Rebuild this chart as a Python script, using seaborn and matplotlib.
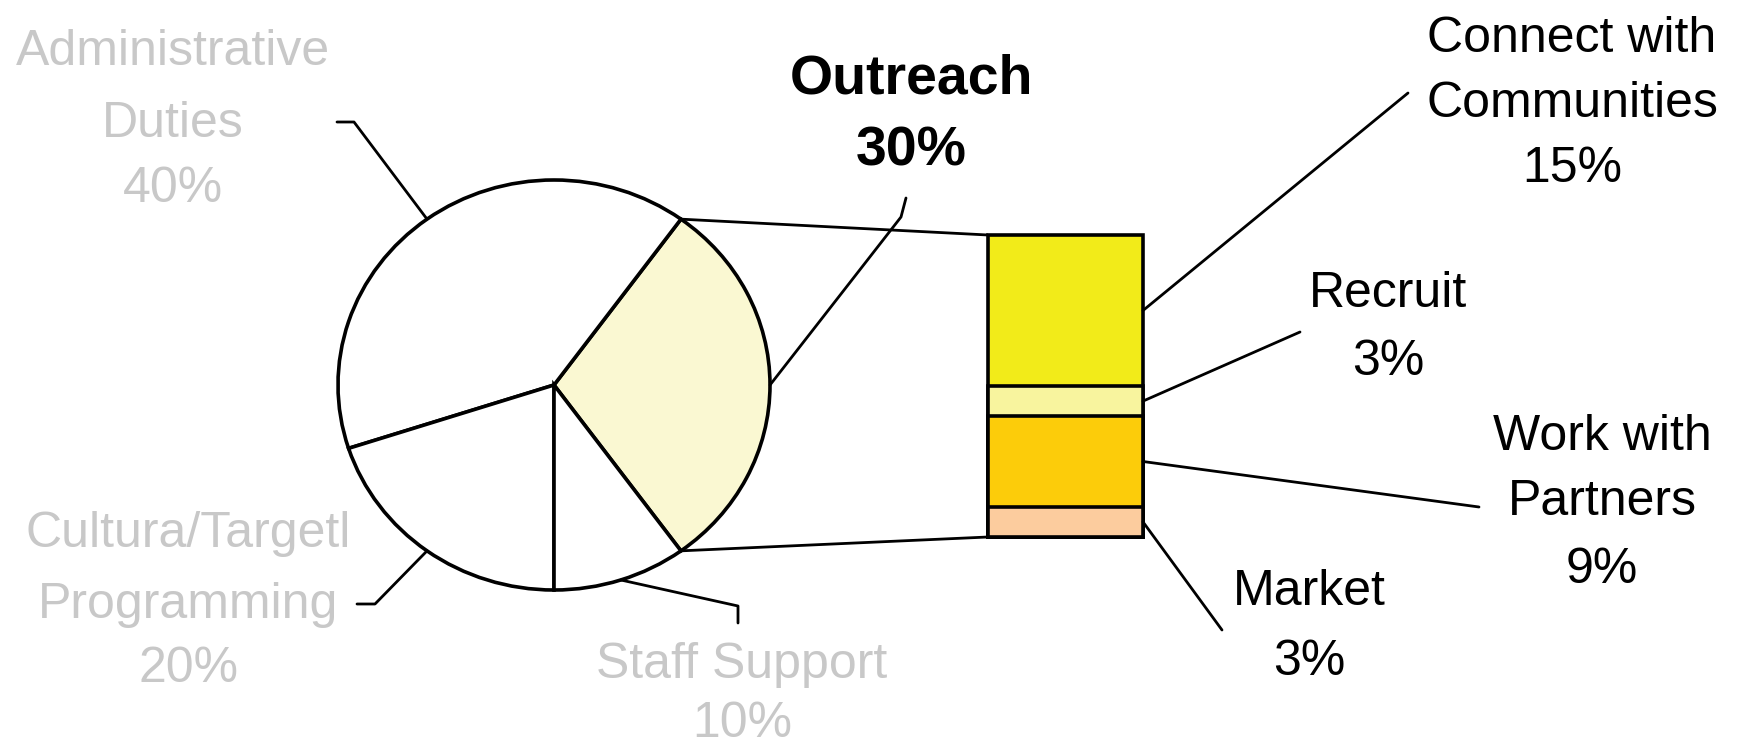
import numpy as np
import pandas as pd
import matplotlib
matplotlib.use("Agg")
import matplotlib.pyplot as plt
import seaborn as sns

# ---------------- data ----------------
pie_labels = ["Outreach", "Administrative\nDuties", "Cultura/Targetl\nProgramming", "Staff Support"]
pie_values = [30, 40, 20, 10]
pie_colors = ["#FAF8D2", "#FFFFFF", "#FFFFFF", "#FFFFFF"]

bar_labels = ["Connect with\nCommunities", "Recruit", "Work with\nPartners", "Market"]
bar_values = [15, 3, 9, 3]
bar_colors = ["#F2EB19", "#F8F49E", "#FCCC0A", "#FCCC9E"]

# ---------------- style ----------------
sns.set_theme(style="white")
plt.rcParams["font.family"] = ["Liberation Sans", "DejaVu Sans"]

W, H = 1744, 747
fig = plt.figure(figsize=(W / 100, H / 100), dpi=100)

def fig_box(left, top, right, bottom):
    return [left / W, 1 - bottom / H, (right - left) / W, (bottom - top) / H]

# pie axes (slightly elliptical, as in the reference)
ax_pie = fig.add_axes(fig_box(338, 180, 770, 590))
wedges, _ = ax_pie.pie(pie_values, colors=pie_colors, startangle=-54, counterclock=True,
                       wedgeprops=dict(edgecolor="black", linewidth=2.6))
ax_pie.set_aspect("auto")
ax_pie.set_xlim(-1, 1)
ax_pie.set_ylim(-1, 1)
ax_pie.axis("off")
for w in wedges:
    w.set_clip_on(False)

# stacked bar axes
ax_bar = fig.add_axes(fig_box(988, 235, 1143, 537))
tops = np.cumsum(bar_values[::-1])[::-1]
df = pd.DataFrame({"group": ["Outreach"] * len(bar_labels), "segment": bar_labels, "top": tops})
sns.barplot(data=df, x="group", y="top", hue="segment", hue_order=bar_labels,
            palette=bar_colors, dodge=False, width=1.0, saturation=1,
            edgecolor="black", linewidth=2.6, ax=ax_bar, legend=False)
ax_bar.set_xlim(-0.5, 0.5)
ax_bar.set_ylim(0, sum(bar_values))
ax_bar.axis("off")
for p in ax_bar.patches:
    p.set_clip_on(False)

# overlay axes in pixel coordinates for labels and leader lines
ax = fig.add_axes([0, 0, 1, 1])
ax.set_xlim(0, W)
ax.set_ylim(H, 0)
ax.axis("off")
ax.patch.set_alpha(0)

def to_ov(src, pt):
    return ax.transData.inverted().transform(src.transData.transform(pt))

total = sum(pie_values)
start = -54.0
angles = []
a = start
for v in pie_values:
    a2 = a + v / total * 360
    angles.append((a, a2))
    a = a2

def pie_pt(deg):
    r = np.deg2rad(deg)
    return to_ov(ax_pie, (np.cos(r), np.sin(r)))

LW = 2.0
# connectors from the Outreach wedge to the bar
t1, t2 = angles[0]
for deg, ybar in [(t2, sum(bar_values)), (t1, 0)]:
    p0 = pie_pt(deg)
    p1 = to_ov(ax_bar, (-0.5, ybar))
    ax.plot([p0[0], p1[0]], [p0[1], p1[1]], color="black", lw=LW, solid_capstyle="butt")

# pie leader lines (elbow, end) in pixels
pie_leaders = [
    [(901, 217), (906, 198)],
    [(354, 122), (337, 122)],
    [(375, 604), (357, 604)],
    [(738, 606), (738, 623)],
]
for (a1, a2), pts in zip(angles, pie_leaders):
    p0 = pie_pt((a1 + a2) / 2)
    xs = [p0[0]] + [q[0] for q in pts]
    ys = [p0[1]] + [q[1] for q in pts]
    ax.plot(xs, ys, color="black", lw=LW)

# bar leader lines
bar_leader_ends = [(1408, 93), (1300, 332), (1479, 507), (1222, 630)]
for top, v, end in zip(tops, bar_values, bar_leader_ends):
    p0 = to_ov(ax_bar, (0.5, top - v / 2))
    ax.plot([p0[0], end[0]], [p0[1], end[1]], color="black", lw=LW)

# labels: (center x, baselines)
FS = 36
GRAY = "#C8C8C8"
pie_text_pos = [
    (911, [93, 166]),
    (173, [65, 137, 202]),
    (188, [547, 618, 682]),
    (742, [678, 737]),
]
pie_text_style = [
    dict(color="black", fontweight="bold", fontsize=40),
    dict(color=GRAY, fontsize=FS),
    dict(color=GRAY, fontsize=FS),
    dict(color=GRAY, fontsize=FS),
]
for lab, v, (x, bases), st in zip(pie_labels, pie_values, pie_text_pos, pie_text_style):
    lines = lab.split("\n") + [f"{v}%"]
    for line, yb in zip(lines, bases):
        ax.text(x, yb, line, ha="center", va="baseline", **st)

bar_text_pos = [
    (1572, [52, 117, 182]),
    (1388, [307, 375]),
    (1602, [450, 515, 583]),
    (1309, [605, 675]),
]
for lab, v, (x, bases) in zip(bar_labels, bar_values, bar_text_pos):
    lines = lab.split("\n") + [f"{v}%"]
    for line, yb in zip(lines, bases):
        ax.text(x, yb, line, ha="center", va="baseline", fontsize=FS, color="black")

fig.savefig("out.png", dpi=100)
